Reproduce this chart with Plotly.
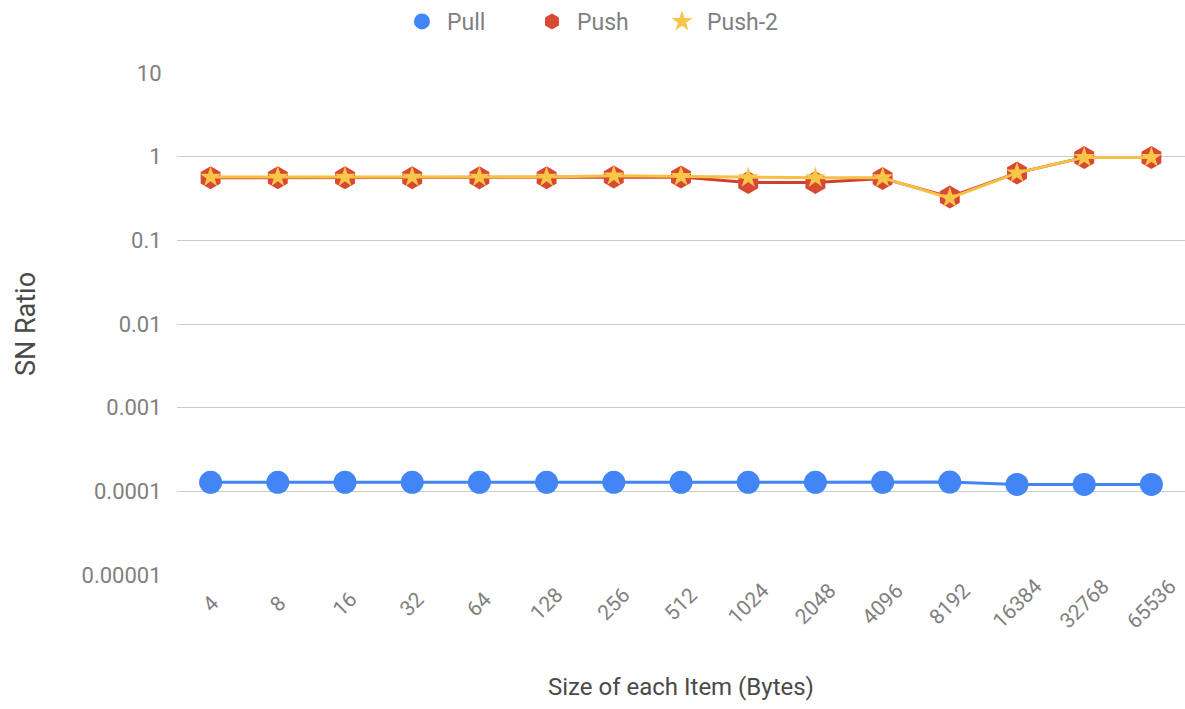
import plotly.graph_objects as go

# Item sizes in bytes (category axis)
sizes = ["4", "8", "16", "32", "64", "128", "256", "512", "1024",
         "2048", "4096", "8192", "16384", "32768", "65536"]

# SN ratio per item size
pull = [0.000128, 0.000128, 0.000128, 0.000128, 0.000128, 0.000128, 0.000128,
        0.000128, 0.000128, 0.000128, 0.000128, 0.000129, 0.000121, 0.000121, 0.000121]
push = [0.56, 0.56, 0.56, 0.56, 0.56, 0.56, 0.57, 0.57, 0.49, 0.49,
        0.55, 0.33, 0.64, 0.98, 0.98]
push2 = [0.57, 0.57, 0.57, 0.57, 0.57, 0.57, 0.59, 0.58, 0.56, 0.56,
         0.56, 0.32, 0.64, 0.98, 0.98]

y_ticks = [0.00001, 0.0001, 0.001, 0.01, 0.1, 1, 10]
y_tick_text = ["0.00001", "0.0001", "0.001", "0.01", "0.1", "1", "10"]

FONT = "Roboto, Arial, sans-serif"
TICK_GREY = "#808080"
TITLE_GREY = "#4a4a4a"

series = [
    ("Pull", pull, dict(color="#4285F4", width=3),
     dict(symbol="circle", size=23, color="#4285F4")),
    ("Push", push, dict(color="#D0402E", width=3),
     dict(symbol="hexagon", size=23, color="#D94832")),
    ("Push-2", push2, dict(color="#F6BF45", width=3),
     dict(symbol="star", size=16, color="#F8C648")),
]

fig = go.Figure()
for name, values, line, marker in series:
    # connecting line (kept out of the legend so the key shows only the symbol)
    fig.add_trace(go.Scatter(x=sizes, y=values, mode="lines", line=line,
                             showlegend=False, hoverinfo="skip"))
    fig.add_trace(go.Scatter(x=sizes, y=values, name=name, mode="markers",
                             marker=marker))

# slanted category labels, each centred under its category
# (category positions are addressed by index so numeric names are not misread)
for idx, s in enumerate(sizes):
    fig.add_annotation(
        x=idx, xref="x", y=0, yref="paper", yshift=-29,
        text=s, showarrow=False, textangle=-45,
        xanchor="center", yanchor="middle",
        font=dict(family=FONT, size=21, color=TICK_GREY),
    )

fig.update_layout(
    width=1185, height=709,
    margin=dict(l=177, r=0, t=73, b=134),
    paper_bgcolor="white", plot_bgcolor="white",
    font=dict(family=FONT, size=20, color=TICK_GREY),
    showlegend=True,
    legend=dict(
        orientation="h", xref="container", x=0.335, xanchor="left",
        yref="container", y=1.0, yanchor="top",
        font=dict(size=23, color=TICK_GREY),
        itemsizing="trace", itemwidth=40,
        entrywidth=75, entrywidthmode="pixels",
    ),
    xaxis=dict(
        type="category", range=[-0.5, 14.5],
        showticklabels=False,
        showgrid=False, showline=False, zeroline=False, ticks="",
        title=dict(text="Size of each Item (Bytes)",
                   font=dict(size=24, color=TITLE_GREY), standoff=103),
    ),
    yaxis=dict(
        type="log", range=[-5, 1],
        tickvals=y_ticks, ticktext=y_tick_text,
        tickfont=dict(size=22, color=TICK_GREY),
        showgrid=True, gridcolor="#CCCCCC", gridwidth=1,
        zeroline=False, showline=False,
        ticks="outside", ticklen=10, tickcolor="rgba(0,0,0,0)",
        title=dict(text="SN Ratio", font=dict(size=27, color=TITLE_GREY),
                   standoff=38),
    ),
)

fig.write_html("out.html")
